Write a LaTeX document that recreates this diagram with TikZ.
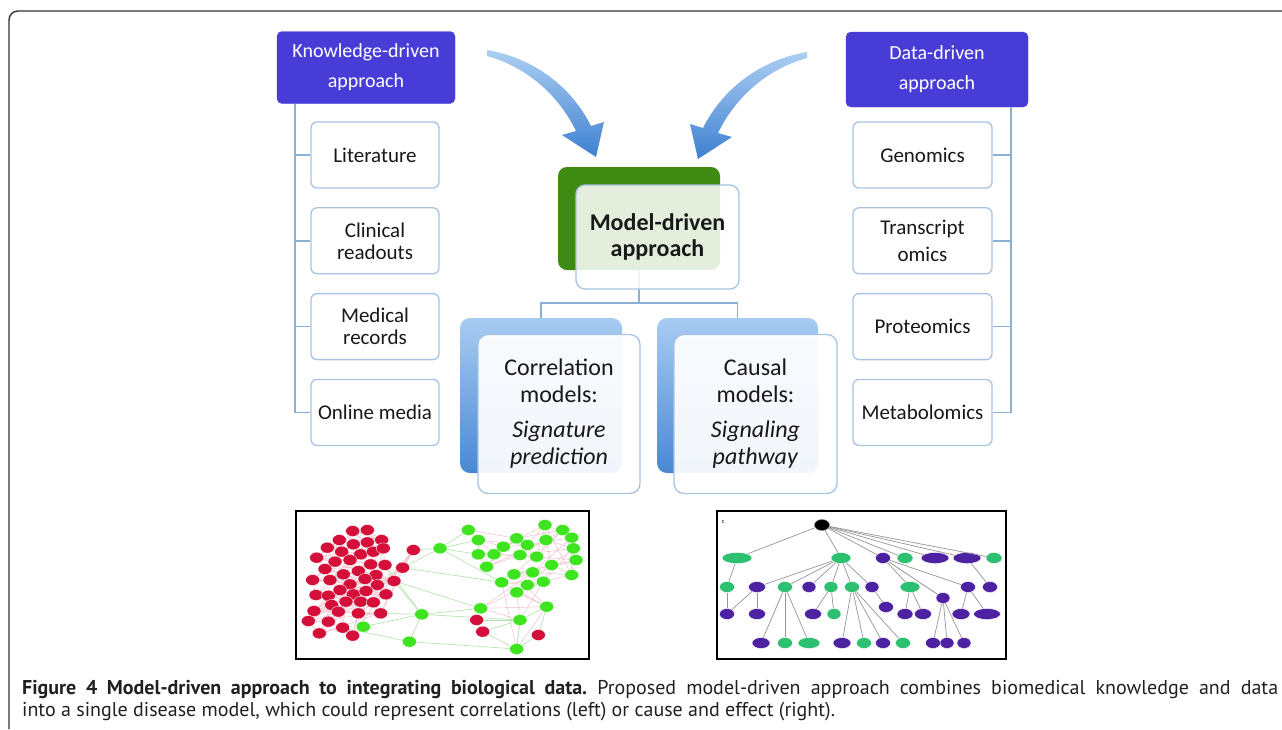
\documentclass[tikz,border=0pt]{standalone}
\usepackage{fontspec}
\setmainfont{Carlito}
\newfontfamily\capfont{PT Sans}
\usetikzlibrary{positioning,shapes.geometric,calc}
\frenchspacing

\definecolor{hdblue}{RGB}{72,60,214}
\definecolor{boxline}{RGB}{168,196,226}
\definecolor{connline}{RGB}{140,176,212}
\definecolor{mdgreen}{RGB}{62,138,18}
\definecolor{armlight}{RGB}{172,207,243}
\definecolor{armdark}{RGB}{62,128,208}
\definecolor{bklight}{RGB}{168,204,242}
\definecolor{bkdark}{RGB}{74,136,212}
\definecolor{netred}{RGB}{212,16,58}
\definecolor{netgreen}{RGB}{62,228,32}
\definecolor{netpink}{RGB}{238,178,188}
\definecolor{netmint}{RGB}{176,226,168}
\definecolor{treegreen}{RGB}{44,192,112}
\definecolor{treepurple}{RGB}{76,34,162}
\definecolor{treeedge}{RGB}{150,150,150}
\definecolor{captext}{RGB}{35,31,32}
\definecolor{boxtext}{RGB}{24,24,24}
\definecolor{framegray}{RGB}{50,50,50}

\tikzset{
  header/.style={draw=hdblue, fill=hdblue, rounded corners=5pt, text=white, align=center,
    font=\fontsize{20}{30}\selectfont, minimum width=178pt, minimum height=72pt, inner sep=0pt},
  itembox/.style={draw=boxline, line width=1.3pt, fill=white, rounded corners=6pt, align=center,
    text=boxtext, font=\fontsize{21}{22}\selectfont, minimum width=128pt, minimum height=66pt, inner sep=0pt},
  conn/.style={draw=connline, line width=1.5pt},
  mdback/.style={fill=mdgreen, rounded corners=9pt, minimum width=162pt, minimum height=103pt, inner sep=0pt},
  mdfront/.style={draw=boxline, line width=1.3pt, fill=white, fill opacity=0.86, text opacity=1,
    rounded corners=9pt, align=center, text=boxtext, font=\fontsize{24}{26}\selectfont\bfseries,
    minimum width=163pt, minimum height=104pt, inner sep=0pt},
  bkbox/.style={top color=bklight, bottom color=bkdark, rounded corners=10pt,
    minimum width=162pt, minimum height=155pt, inner sep=0pt},
  frontbox/.style={draw=boxline, line width=1.3pt, fill=white, fill opacity=0.93, text opacity=1,
    rounded corners=10pt, align=center, text=boxtext, font=\fontsize{24}{27}\selectfont,
    minimum width=162pt, minimum height=159pt, inner sep=0pt},
  panel/.style={draw=black, line width=2pt, fill=white, inner sep=0pt},
  rednode/.style={ellipse, fill=netred, draw=white, line width=0.3pt, minimum width=14pt,
    minimum height=11pt, inner sep=0pt},
  greennode/.style={rednode, fill=netgreen},
  pinkedge/.style={draw=netpink, line width=0.5pt, opacity=0.8},
  mintedge/.style={draw=netmint, line width=0.6pt},
  tnode/.style={ellipse, minimum height=11pt, inner sep=0pt, draw=white, line width=0.4pt},
  tg/.style={tnode, fill=treegreen, minimum width=#1}, tg/.default=15pt,
  tp/.style={tnode, fill=treepurple, minimum width=#1}, tp/.default=15pt,
  tedge/.style={draw=treeedge, line width=0.7pt},
  captxt/.style={anchor=base west, inner sep=0pt, text=captext, font=\capfont\fontsize{20}{22}\selectfont}
}

% one curved blue arrow, the right one is its mirror
\newcommand{\bluearrow}{%
  \path[top color=armlight, bottom color=armdark]
    (487,50) .. controls (535,58) and (572,88) .. (591,126) -- (604,122) -- (596,157)
    -- (562,135) -- (576,131) .. controls (560,98) and (530,68) .. (487,56) -- cycle;}

\begin{document}
\begin{tikzpicture}[x=1pt, y=-1pt]
  \useasboundingbox (0,0) rectangle (1282,729);
  \draw[draw=framegray, line width=1.4pt, rounded corners=9pt] (9,729) -- (9,11) -- (1282,11);

  \bluearrow
  \begin{scope}[shift={(1294,2)}, xscale=-1]
    \bluearrow
  \end{scope}

  % knowledge side
  \node[header] (kd) at (366,67.5) {Knowledge-driven\\approach};
  \node[itembox] (lit) at (375,155) {Literature};
  \node[itembox, below=18.5pt of lit] (clin) {Clinical\\readouts};
  \node[itembox, below=18.5pt of clin] (med) {Medical\\records};
  \node[itembox, below=18.5pt of med] (online) {Online media};
  \coordinate (kdtrunk) at ([xshift=18pt]kd.south west);
  \draw[conn] (kdtrunk) |- (online.west);
  \foreach \n in {lit,clin,med}
    \draw[conn] (\n.west) -- (\n.west -| kdtrunk);

  % data side
  \node[header, minimum width=182pt, minimum height=75pt] (dd) at (937,69.5) {Data-driven\\approach};
  \node[itembox, minimum width=139pt] (gen) at (922.5,155) {Genomics};
  \node[itembox, minimum width=139pt, below=18.5pt of gen] (trans) {Transcript\\[5pt]omics};
  \node[itembox, minimum width=139pt, below=18.5pt of trans] (prot) {Proteomics};
  \node[itembox, minimum width=139pt, below=18.5pt of prot] (meta) {Metabolomics};
  \coordinate (ddtrunk) at ([xshift=-17pt]dd.south east);
  \draw[conn] (ddtrunk) |- (meta.east);
  \foreach \n in {gen,trans,prot}
    \draw[conn] (\n.east) -- (\n.east -| ddtrunk);

  % model-driven part
  \node[mdback] (mdback) at (639,218.5) {};
  \node[bkbox] (corrback) at (541,395.5) {};
  \node[bkbox, minimum width=161pt] (causback) at (737.5,395.5) {};
  \draw[conn] (mdback.south) -- ++(0,33) coordinate (split);
  \draw[conn] (corrback.north) |- (split) -| (causback.north);
  \node[mdfront] (mdfront) at (657.5,237) {Model-driven\\approach};
  \node[frontbox] (corrfront) at (559,414)
    {Correlation\\models:\\[8pt]\textit{Signature}\\\textit{prediction}};
  \node[frontbox, minimum width=163pt] (causfront) at (755.5,414)
    {Causal\\models:\\[8pt]\textit{Signaling}\\\textit{pathway}};

  % correlation network
  \node[panel, minimum width=293pt, minimum height=148pt] (corrpanel) at (442.5,585) {};
  \begin{scope}[shift={(290,505)}, scale=1/3]
    \foreach \x/\y [count=\i] in {188/78,232/75,148/105,190/118,232/112,275/105,112/128,155/140,
        212/148,250/140,280/130,80/158,135/170,180/165,242/178,285/180,105/192,160/208,205/198,
        258/210,312/228,68/225,120/225,180/238,225/222,262/240,78/270,115/272,150/255,190/268,
        228/258,288/268,72/318,125/300,168/290,212/290,250/292,55/348,115/350,145/320,205/325,
        272/325,88/385,158/368,188/392,370/135,338/188,560/345,578/380,745/390}
      \coordinate (r\i) at (\x,\y);
    \foreach \x/\y [count=\i] in {450/130,535/75,565/105,565/148,612/148,640/125,590/185,680/100,
        712/120,690/150,740/155,765/60,768/105,818/75,845/98,850/130,858/165,845/210,785/180,
        672/208,728/202,760/230,635/232,712/240,680/262,770/305,572/310,690/345,680/432,
        395/328,358/410,220/365}
      \coordinate (g\i) at (\x,\y);
  \end{scope}
  \foreach \i in {1,...,47} {
    \foreach \k in {1,4,5,9} {
      \pgfmathtruncatemacro{\j}{\i+\k}
      \ifnum\j<48 \draw[pinkedge] (r\i) -- (r\j); \fi
    }
  }
  \foreach \i in {2,...,29} {
    \foreach \k in {1,3,6} {
      \pgfmathtruncatemacro{\j}{\i+\k}
      \ifnum\j<30 \draw[pinkedge] (g\i) -- (g\j); \fi
    }
  }
  \foreach \a/\b in {r46/g1,r47/g1,g1/g2,g1/g3,g1/g4,r21/g30,r42/g30,g30/g32,g30/g31,g32/r45,
      g31/r44,g30/g27,g30/g28,g27/r48,g28/r48,g28/r49,g29/r49,g29/r50,g26/r50,g29/g28,
      g26/g28,r47/g23,r21/g27,g1/g23,g31/g29,r16/g30}
    \draw[mintedge] (\a) -- (\b);
  \foreach \i in {1,...,50}
    \node[rednode] (rn\i) at (r\i) {};
  \foreach \i in {1,...,32}
    \node[greennode] (gn\i) at (g\i) {};

  % causal tree
  \node[panel, minimum width=289pt, minimum height=148pt] (causpanel) at (861.5,585) {};
  \node[font=\fontsize{6}{6}\selectfont\bfseries, text=darkgray, inner sep=0pt] (clabel) at (723,522) {c};
  \node[tnode, fill=black, draw=gray, minimum width=15pt] (root) at (822,525) {};
  \node[tg=30pt] (a1) at (737,558) {};
  \node[tg=20pt] (a2) at (841,558) {};
  \node[tp] (a3) at (883,558) {};
  \node[tg=16pt] (a4) at (905,558) {};
  \node[tp=28pt] (a5) at (935,558) {};
  \node[tp=28pt] (a6) at (967,558) {};
  \node[tg=16pt] (a7) at (994,558) {};
  \node[tg] (b1) at (727,587) {};
  \node[tp=17pt] (b2) at (757,587) {};
  \node[tg] (b3) at (785,587) {};
  \node[tp=14pt] (b4) at (809,587) {};
  \node[tg=14pt] (b5) at (831,587) {};
  \node[tg] (b6) at (852,587) {};
  \node[tp=14pt] (b7) at (872,587) {};
  \node[tg=20pt] (b8) at (910,587) {};
  \node[tp=14pt] (b9) at (943,598) {};
  \node[tp] (b10) at (968,587) {};
  \node[tp] (b11) at (990,587) {};
  \node[tp] (c1) at (727,614) {};
  \node[tp=17pt] (c2) at (757,614) {};
  \node[tp=17pt] (c3) at (813,614) {};
  \node[tg=14pt] (c4) at (834,614) {};
  \node[tp] (c5) at (886,607) {};
  \node[tp=16pt] (c6) at (905,614) {};
  \node[tp=17pt] (c7) at (923,614) {};
  \node[tp=18pt] (c8) at (961,614) {};
  \node[tp=27pt] (c9) at (987,614) {};
  \node[tp=18pt] (d1) at (761,643) {};
  \node[tg] (d2) at (785,643) {};
  \node[tg=22pt] (d3) at (809,643) {};
  \node[tp=18pt] (d4) at (842,643) {};
  \node[tg] (d5) at (864,643) {};
  \node[tp] (d6) at (883,643) {};
  \node[tg] (d7) at (903,643) {};
  \node[tp] (d8) at (933,643) {};
  \node[tp=14pt] (d9) at (947,643) {};
  \node[tp=14pt] (d10) at (964,643) {};
  \foreach \a/\b in {root/a1,root/a2,root/a3,root/a4,root/a5,root/a6,root/a7,a1/b1,b1/c1,b2/c1,
      b2/c2,a2/b2,a2/b3,a2/b4,a2/b5,a2/b6,a2/b7,b3/d1,b3/d2,b3/d3,b5/c3,b5/c4,b6/d4,b6/d5,
      b6/d6,b6/d7,b7/c5,a3/b8,a3/b9,a3/b10,b8/c6,b8/c7,b9/d8,b9/d9,b9/d10,b10/c8,b10/c9,a6/b11}
    \draw[tedge] (\a) -- (\b);

  % caption
  \node[captxt] (capa) at (22,694) {\makebox[1256pt][s]{\textbf{Figure 4 Model-driven approach to
    integrating biological data.} Proposed model-driven approach combines biomedical knowledge and data}};
  \node[captxt] (capb) at (22,716) {into a single disease model, which could represent correlations
    (left) or cause and effect (right).};
\end{tikzpicture}
\end{document}
